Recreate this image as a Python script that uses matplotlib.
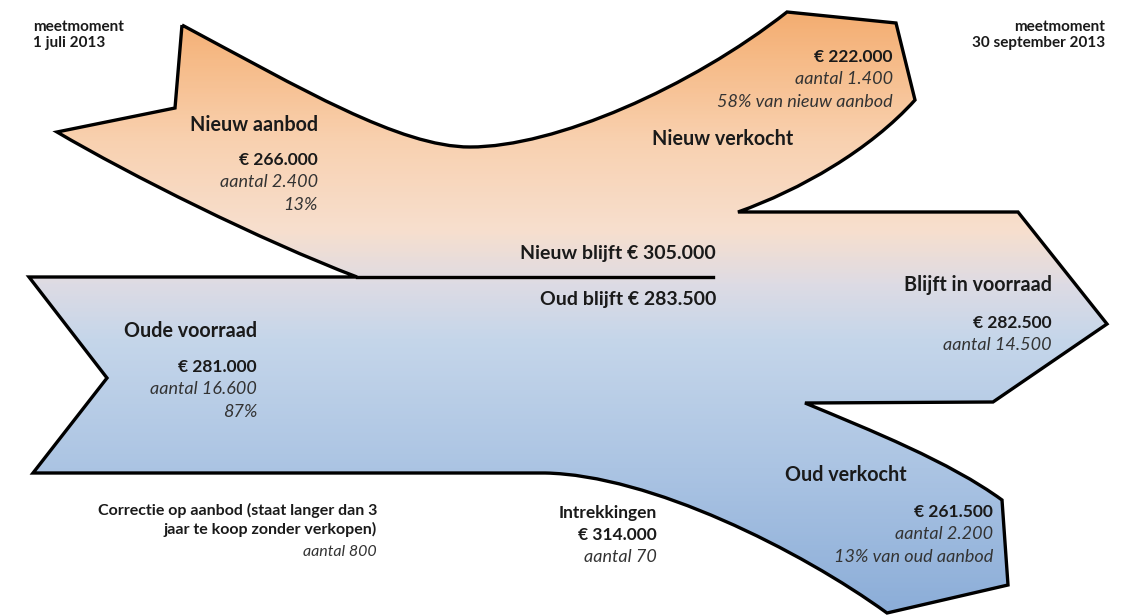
import matplotlib
matplotlib.use("Agg")
import matplotlib.pyplot as plt
import numpy as np
from matplotlib.path import Path
from matplotlib.patches import PathPatch
from matplotlib.colors import LinearSegmentedColormap

plt.rcParams['font.family'] = ['Lato', 'DejaVu Sans']

W, H = 1124, 616

# --- data -------------------------------------------------------------
meetmomenten = ["meetmoment\n1 juli 2013", "meetmoment\n30 september 2013"]

stromen = ["Nieuw aanbod", "Nieuw verkocht", "Blijft in voorraad",
           "Oude voorraad", "Oud verkocht"]
bedragen = ["€ 266.000", "€ 222.000", "€ 282.500", "€ 281.000", "€ 261.500"]
aantallen = ["aantal 2.400", "aantal 1.400", "aantal 14.500",
             "aantal 16.600", "aantal 2.200"]
aandelen = ["13%", "58% van nieuw aanbod", "", "87%", "13% van oud aanbod"]

blijft_labels = ["Nieuw blijft € 305.000", "Oud blijft € 283.500"]

intrekkingen = ["Intrekkingen", "€ 314.000", "aantal 70"]
correctie = ["Correctie op aanbod (staat langer dan 3\njaar te koop zonder verkopen)",
             "aantal 800"]

# gradient stops (y in pixels, colour)
grad_y = [0, 60, 140, 230, 285, 340, 470, 616]
grad_c = ["#f3aa6c", "#f6bb88", "#f9d1b0", "#f7dfce", "#dddbe4",
          "#c5d6ea", "#abc4e3", "#8badd8"]

# --- outline of the flow shape (pixel coords) --------------------------
M, L, C = Path.MOVETO, Path.LINETO, Path.CURVE4
verts = [
    ((182, 25), M),
    ((300, 88), C), ((400, 147), C), ((470, 147), C),
    ((555, 147), C), ((690, 88), C), ((787, 12), C),
    ((896, 23), L), ((915, 100), L),
    ((870, 150), C), ((800, 190), C), ((738, 212), C),
    ((1018, 212), L), ((1107, 324), L), ((993, 402), L), ((805, 403), L),
    ((870, 430), C), ((950, 462), C), ((1002, 500), C),
    ((1008, 585), L), ((887, 613), L),
    ((800, 550), C), ((650, 475), C), ((545, 473), C),
    ((33, 473), L), ((107, 378), L), ((29, 277), L), ((357, 277), L),
    ((260, 240), C), ((130, 175), C), ((57, 132), C),
    ((175, 108), L), ((182, 25), L),
]
path = Path([v for v, _ in verts], [c for _, c in verts])

fig = plt.figure(figsize=(W / 100, H / 100), dpi=100)
ax = fig.add_axes([0, 0, 1, 1])
ax.set_xlim(0, W)
ax.set_ylim(H, 0)
ax.axis('off')

stops = [(y / H, c) for y, c in zip(grad_y, grad_c)]
cmap = LinearSegmentedColormap.from_list('flow', stops)
grad = np.linspace(0, 1, 400).reshape(-1, 1)
img = ax.imshow(grad, cmap=cmap, extent=[0, W, H, 0], aspect='auto', zorder=1)
patch = PathPatch(path, facecolor='none', edgecolor='black', lw=2.4,
                  joinstyle='miter', zorder=3)
ax.add_patch(patch)
img.set_clip_path(patch)
ax.plot([357, 713], [277, 277], color='black', lw=2.4, zorder=3)
ax.set_xlim(0, W)
ax.set_ylim(H, 0)

tc = '#1a1a1a'
ic = '#333333'


def txt(x, y, s, size, bold=False, italic=False, ha='right', color=tc, ls=1.2):
    ax.text(x, y, s, fontsize=size, ha=ha, va='center', color=color,
            fontweight='bold' if bold else 'normal',
            fontstyle='italic' if italic else 'normal',
            linespacing=ls, zorder=5)


# corner labels
txt(33, 35, meetmomenten[0], 11, bold=True, ha='left', ls=1.2)
txt(1105, 35, meetmomenten[1], 11, bold=True, ls=1.2)

# blocks: heading position, value block right edge and first line y
heads = [(318, 125), (793, 139), (1052, 285), (257, 331), (907, 475)]
vals = [(318, 160), (893, 57), (1052, 323), (257, 367), (993, 512)]
for i, naam in enumerate(stromen):
    hx, hy = heads[i]
    txt(hx, hy, naam, 14.2, bold=True)
    vx, vy = vals[i]
    txt(vx, vy, bedragen[i], 12.5, bold=True)
    txt(vx, vy + 22, aantallen[i], 13, italic=True, color=ic)
    if aandelen[i]:
        txt(vx, vy + 45, aandelen[i], 13, italic=True, color=ic)

txt(716, 253, blijft_labels[0], 14, bold=True)
txt(716, 300, blijft_labels[1], 14, bold=True)

txt(657, 513, intrekkingen[0], 12.5, bold=True)
txt(657, 535, intrekkingen[1], 12.5, bold=True)
txt(657, 557, intrekkingen[2], 13, italic=True, color=ic)

txt(377, 520, correctie[0], 11.5, bold=True, ls=1.25)
txt(377, 552, correctie[1], 11.5, italic=True, color=ic)

fig.savefig('out.png', dpi=100)
